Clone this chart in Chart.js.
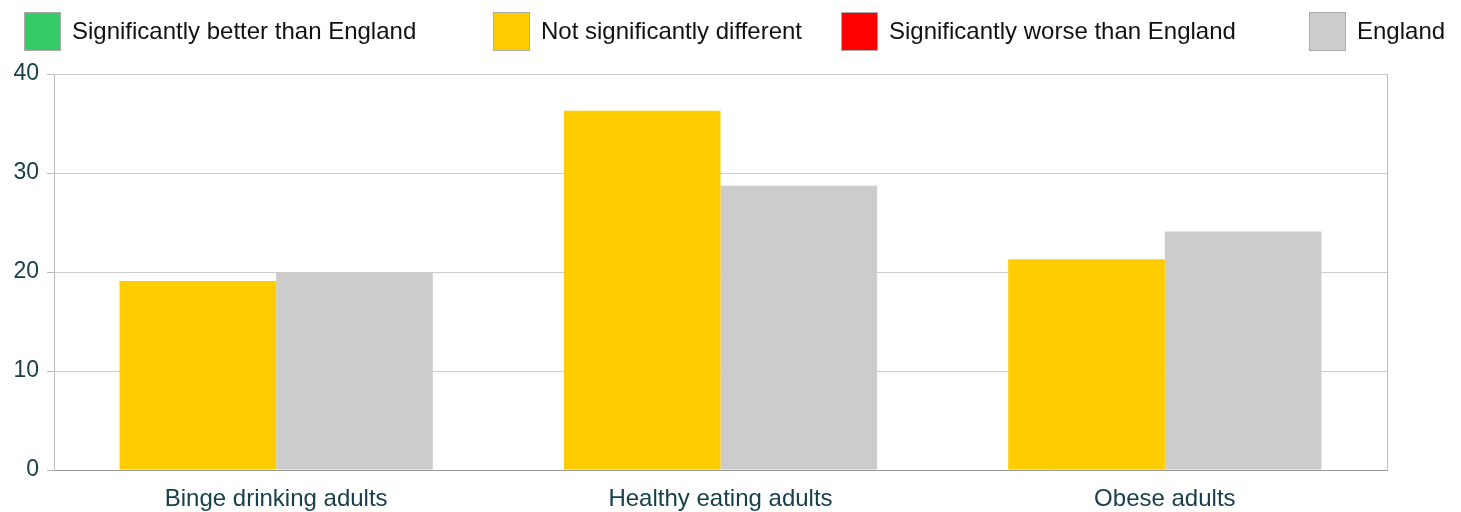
<!DOCTYPE html>
<html>
<head>
<meta charset="utf-8">
<script src="https://cdn.jsdelivr.net/npm/chart.js@4"></script>
<style>
  html, body { margin: 0; padding: 0; background: #fff; }
  #wrap { position: relative; width: 1461px; height: 512px; font-family: "Liberation Sans", Arial, sans-serif; }
  #legend { position: absolute; top: 0; left: 0; width: 1461px; height: 62px; }
  .item { position: absolute; top: 12px; display: flex; align-items: center; height: 38px; }
  .box { width: 35px; height: 37px; border: 1px solid #aaa; box-sizing: content-box; margin-right: 11px; }
  .lbl { font-size: 24px; color: #111; white-space: nowrap; }
  #chart { position: absolute; top: 0; left: 0; }
</style>
</head>
<body>
<div id="wrap">
  <canvas id="chart" width="1461" height="512"></canvas>
  <div id="legend"></div>
</div>
<script>
const categories = ['Binge drinking adults', 'Healthy eating adults', 'Obese adults'];
const areaValues = [19.1, 36.3, 21.3];
const englandValues = [20.0, 28.7, 24.1];
const yTicks = [0, 10, 20, 30, 40];

const legendLabels = ['Significantly better than England', 'Not significantly different', 'Significantly worse than England', 'England'];
const legendColours = ['#33cc66', '#ffcc00', '#ff0000', '#cccccc'];
const legendLeft = [24, 493, 841, 1309];

const legend = document.getElementById('legend');
legendLabels.forEach((text, i) => {
  const item = document.createElement('div');
  item.className = 'item';
  item.style.left = legendLeft[i] + 'px';
  item.innerHTML = `<div class="box" style="background:${legendColours[i]}"></div><span class="lbl">${text}</span>`;
  legend.appendChild(item);
});

const textColour = '#17404a';

new Chart(document.getElementById('chart').getContext('2d'), {
  type: 'bar',
  data: {
    labels: categories,
    datasets: [
      { label: 'Area', data: areaValues, backgroundColor: '#ffcc00', borderWidth: 0 },
      { label: 'England', data: englandValues, backgroundColor: '#cccccc', borderWidth: 0 }
    ]
  },
  options: {
    responsive: false,
    animation: false,
    devicePixelRatio: 1,
    layout: { padding: { top: 74, left: 0, right: 74, bottom: 0 } },
    datasets: { bar: { barPercentage: 1, categoryPercentage: 0.705 } },
    plugins: { legend: { display: false }, tooltip: { enabled: false } },
    scales: {
      x: {
        grid: { display: false },
        border: { display: true, color: '#999999', width: 1 },
        ticks: { color: textColour, font: { family: '"Liberation Sans", Arial', size: 24 }, padding: 7 },
        afterFit: s => { s.height = 42; }
      },
      y: {
        min: 0,
        max: 40,
        afterBuildTicks: s => { s.ticks = yTicks.map(v => ({ value: v })); },
        grid: { color: '#cccccc', tickLength: 7, tickColor: '#bbbbbb' },
        border: { display: true, color: '#bbbbbb' },
        ticks: { color: textColour, font: { family: '"Liberation Sans", Arial', size: 23 }, padding: 8 },
        afterFit: s => { s.width = 54; }
      },
      y2: {
        position: 'right',
        min: 0,
        max: 40,
        grid: { drawOnChartArea: false, drawTicks: false },
        border: { display: true, color: '#bbbbbb' },
        ticks: { display: false },
        afterFit: s => { s.width = 0; }
      }
    }
  }
});
</script>
</body>
</html>
